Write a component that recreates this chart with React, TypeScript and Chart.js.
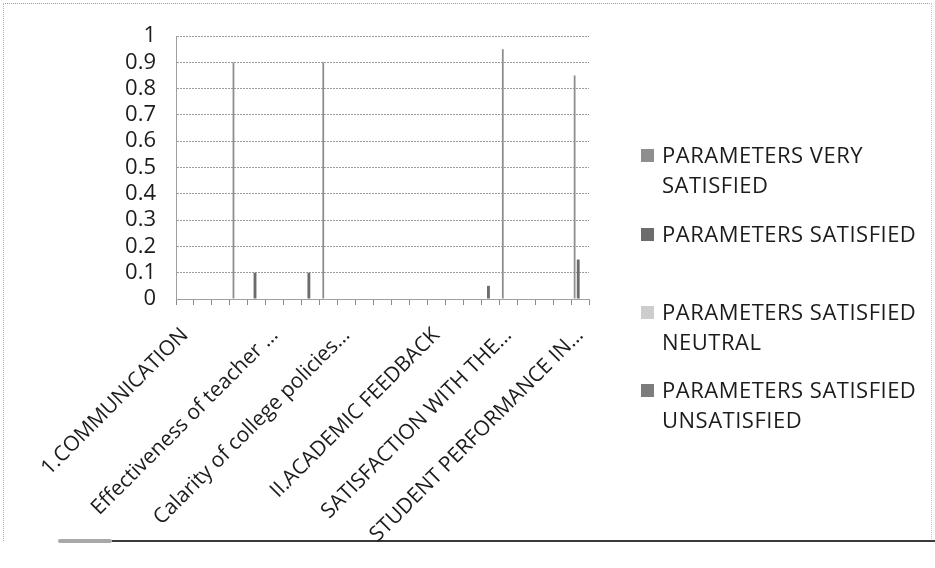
import React, { useEffect, useRef } from "react";
import { Chart, registerables } from "chart.js";

Chart.register(...registerables);

// Category rows (only the labels that are visible in the picture are named)
const categories: string[] = [
  "1.COMMUNICATION", "", "", "", "",
  "Effectiveness of teacher …", "", "", "",
  "Calarity of college policies…", "", "", "", "",
  "II.ACADEMIC FEEDBACK", "", "", "",
  "SATISFACTION WITH THE…", "", "", "",
  "STUDENT PERFORMANCE IN…",
];

const seriesNames: string[][] = [
  ["PARAMETERS VERY", "SATISFIED"],
  ["PARAMETERS SATISFIED"],
  ["PARAMETERS SATISFIED", "NEUTRAL"],
  ["PARAMETERS SATISFIED", "UNSATISFIED"],
];

const veryStisfied = [0, 0, 0, 0.9, 0, 0, 0, 0, 0.9, 0, 0, 0, 0, 0, 0, 0, 0, 0, 0.95, 0, 0, 0, 0.85];
const satisfied = [0, 0, 0, 0, 0.1, 0, 0, 0.1, 0, 0, 0, 0, 0, 0, 0, 0, 0, 0.05, 0, 0, 0, 0, 0.15];
const neutral = [0, 0, 0, 0, 0, 0, 0, 0, 0, 0, 0, 0, 0, 0, 0, 0, 0, 0, 0, 0, 0, 0, 0];
const unsatisfied = [0, 0, 0, 0, 0, 0, 0, 0, 0, 0, 0, 0, 0, 0, 0, 0, 0, 0, 0, 0, 0, 0, 0];

const seriesColors = ["#8e8e8e", "#6c6c6c", "#cdcdcd", "#7c7c7c"];
const barPcts = [0.5, 0.8, 0.8, 0.8];

const FONT = "'Open Sans', 'Noto Sans', sans-serif";
const TEXT = "#1c1c1c";

// legend text baselines (px) for the first line of each entry
const legendBaselines = [163, 242, 320, 398];

export default function App() {
  const ref = useRef<HTMLCanvasElement | null>(null);

  useEffect(() => {
    if (!ref.current) return;
    const values = [veryStisfied, satisfied, neutral, unsatisfied];
    const chart = new Chart(ref.current, {
      type: "bar",
      data: {
        labels: categories,
        datasets: values.map((v, i) => ({
          label: seriesNames[i].join(" "),
          data: v,
          backgroundColor: seriesColors[i],
          borderWidth: 0,
          categoryPercentage: 0.8,
          barPercentage: barPcts[i],
        })),
      },
      options: {
        responsive: false,
        animation: false,
        devicePixelRatio: 1,
        layout: { padding: { left: 0, top: 36, right: 346, bottom: 0 } },
        plugins: { legend: { display: false }, tooltip: { enabled: false } },
        scales: {
          x: {
            grid: {
              offset: true,
              drawOnChartArea: false,
              drawTicks: true,
              tickLength: 6,
              color: "#8a8a8a",
            },
            border: { display: true, color: "#a0a0a0" },
            ticks: {
              autoSkip: false,
              minRotation: 45,
              maxRotation: 45,
              padding: 18,
              color: TEXT,
              font: { family: FONT, size: 21 },
            },
            afterFit: (s: any) => {
              s.height = 269;
            },
          },
          y: {
            min: 0,
            max: 1,
            ticks: {
              stepSize: 0.1,
              autoSkip: false,
              padding: 20,
              color: TEXT,
              font: { family: FONT, size: 22 },
              callback: (v: any) => String(Math.round(Number(v) * 10) / 10),
            },
            grid: { drawTicks: false, color: "#9c9c9c" },
            border: { display: true, color: "#a0a0a0", dash: [2, 1] },
            afterFit: (s: any) => {
              s.width = 176;
            },
          },
        },
      },
    });
    return () => chart.destroy();
  }, []);

  return (
    <div
      style={{
        position: "absolute",
        left: 0,
        top: 0,
        width: 935,
        height: 568,
        background: "#fff",
        overflow: "hidden",
        fontFamily: FONT,
      }}
    >
      <div
        style={{
          position: "absolute",
          left: 3,
          top: 3,
          width: 927,
          height: 537,
          borderTop: "1px dotted #9a9a9a",
          borderLeft: "1px dotted #b0b0b0",
          borderRight: "1px dotted #c8c8c8",
        }}
      />
      <div style={{ position: "absolute", left: 112, top: 540, width: 823, height: 2, background: "#3a3a3a" }} />
      <div style={{ position: "absolute", left: 58, top: 539, width: 54, height: 4, background: "#a8a8a8", borderRadius: 2 }} />
      <canvas ref={ref} width={935} height={568} style={{ position: "absolute", left: 0, top: 0, display: "block" }} />
      {seriesNames.map((lines, i) => (
        <React.Fragment key={i}>
          <div
            style={{
              position: "absolute",
              left: 641,
              top: legendBaselines[i] - 14,
              width: 13,
              height: 13,
              background: seriesColors[i],
            }}
          />
          <div
            style={{
              position: "absolute",
              left: 662,
              top: legendBaselines[i] - 24,
              fontSize: 22,
              letterSpacing: "0.5px",
              lineHeight: "30px",
              color: TEXT,
              whiteSpace: "nowrap",
            }}
          >
            {lines.map((l, j) => (
              <div key={j}>{l}</div>
            ))}
          </div>
        </React.Fragment>
      ))}
    </div>
  );
}
